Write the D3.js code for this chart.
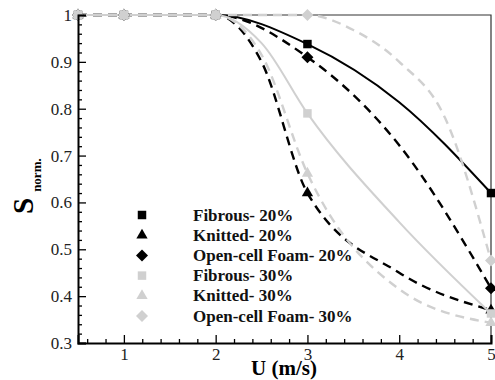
<!DOCTYPE html>
<html>
<head>
<meta charset="utf-8">
<script src="https://cdn.jsdelivr.net/npm/d3@7"></script>
<style>
  body { margin: 0; background: #fff; }
  svg { display: block; }
</style>
</head>
<body>
<svg width="495" height="380"></svg>
<script>
// marker positions (U) and values
var markerU = [0.5, 1, 2, 3, 5]

// curve points (U) used to draw the smooth lines
var fib20U = [0.5, 1, 2, 3, 4, 5]
var fib20S = [1, 1, 1, 0.938, 0.814, 0.62]
var kni20U = [0.5, 1, 2, 2.5, 3, 4, 5]
var kni20S = [1, 1, 1, 0.90, 0.62, 0.45, 0.37]
var foam20U = [0.5, 1, 2, 3, 4, 5]
var foam20S = [1, 1, 1, 0.91, 0.722, 0.417]
var fib30U = [0.5, 1, 2, 2.5, 3, 4, 5]
var fib30S = [1, 1, 1, 0.94, 0.79, 0.558, 0.363]
var kni30U = [0.5, 1, 2, 2.5, 3, 4, 5]
var kni30S = [1, 1, 1, 0.915, 0.662, 0.415, 0.343]
var foam30U = [0.5, 1, 2, 3, 3.5, 4, 4.5, 5]
var foam30S = [1, 1, 1, 1, 0.968, 0.90, 0.78, 0.476]

// values at the marker positions
var fib20M = [1, 1, 1, 0.938, 0.62]
var kni20M = [1, 1, 1, 0.62, 0.37]
var foam20M = [1, 1, 1, 0.91, 0.417]
var fib30M = [1, 1, 1, 0.79, 0.363]
var kni30M = [1, 1, 1, 0.662, 0.343]
var foam30M = [1, 1, 1, 1, 0.476]

var names = ['Fibrous- 20%', 'Knitted- 20%', 'Open-cell Foam- 20%',
             'Fibrous- 30%', 'Knitted- 30%', 'Open-cell Foam- 30%']

var xTicks = [1, 2, 3, 4, 5]
var yTicks = [0.3, 0.4, 0.5, 0.6, 0.7, 0.8, 0.9, 1]

var black = '#000', gray = '#d0d0d0'
var series = [
    { name: names[0], u: fib20U, s: fib20S, m: fib20M, sym: 'sq', color: black, dash: null },
    { name: names[1], u: kni20U, s: kni20S, m: kni20M, sym: 'tri', color: black, dash: '9,6' },
    { name: names[2], u: foam20U, s: foam20S, m: foam20M, sym: 'dia', color: black, dash: '9,6' },
    { name: names[3], u: fib30U, s: fib30S, m: fib30M, sym: 'sq', color: gray, dash: null },
    { name: names[4], u: kni30U, s: kni30S, m: kni30M, sym: 'tri', color: gray, dash: '9,6' },
    { name: names[5], u: foam30U, s: foam30S, m: foam30M, sym: 'dia', color: gray, dash: '9,6' }
]

// square, triangle, square turned 45deg
var symPath = {
    sq: d3.symbol().type(d3.symbolSquare).size(72)(),
    tri: d3.symbol().type(d3.symbolTriangle).size(55)(),
    dia: d3.symbol().type(d3.symbolSquare).size(72)()
}
var symRot = { sq: 0, tri: 0, dia: 45 }

var svg = d3.select("svg"),
    mLeft = 78, mRight = 491, mTop = 15, mBottom = 343;

var x = d3.scaleLinear().domain([0.5, 5]).range([mLeft, mRight])
var y = d3.scaleLinear().domain([0.3, 1]).range([mBottom, mTop])

var serif = "'Liberation Serif', 'Times New Roman', serif"

// frame: thin top and right
svg.append("path")
    .attr("d", "M" + mLeft + "," + mTop + "H" + mRight + "V" + mBottom)
    .attr("fill", "none")
    .attr("stroke", "#333")
    .attr("stroke-width", 1.2)

// lines
var line = d3.line()
    .x(d => x(d[0]))
    .y(d => y(d[1]))
    .curve(d3.curveMonotoneX)

series.forEach(function (sr) {
    svg.append("path")
        .datum(sr.u.map((u, i) => [u, sr.s[i]]))
        .attr("d", line)
        .attr("fill", "none")
        .attr("stroke", sr.color)
        .attr("stroke-width", sr.dash ? 2.4 : 2)
        .attr("stroke-dasharray", sr.dash)
})

// markers
series.forEach(function (sr) {
    svg.append("g")
        .selectAll("path")
        .data(markerU.map((u, i) => [u, sr.m[i]]))
        .enter().append("path")
        .attr("d", symPath[sr.sym])
        .attr("transform", d => "translate(" + x(d[0]) + "," + y(d[1]) + ") rotate(" + symRot[sr.sym] + ")")
        .attr("fill", sr.color)
})

// axes
var xAxis = svg.append("g")
    .attr("transform", "translate(0," + mBottom + ")")
    .call(d3.axisBottom(x).tickValues(xTicks).tickSize(-8).tickPadding(5).tickFormat(d3.format("d")))
var xMinor = svg.append("g")
    .attr("transform", "translate(0," + mBottom + ")")
    .call(d3.axisBottom(x).tickValues(d3.range(0.6, 5, 0.2).filter(v => Math.abs(v - Math.round(v)) > 0.01)).tickSize(-4).tickFormat(""))
var yAxis = svg.append("g")
    .attr("transform", "translate(" + mLeft + ",0)")
    .call(d3.axisLeft(y).tickValues(yTicks).tickSize(-8).tickPadding(6).tickFormat(d => d === 1 ? "1" : d3.format(".1f")(d)))
var yMinor = svg.append("g")
    .attr("transform", "translate(" + mLeft + ",0)")
    .call(d3.axisLeft(y).tickValues(d3.range(0.32, 1, 0.02).filter(v => Math.abs(v * 10 - Math.round(v * 10)) > 0.01)).tickSize(-4).tickFormat(""))

svg.selectAll(".domain").attr("stroke", "#000").attr("stroke-width", 2)
xMinor.select(".domain").remove()
yMinor.select(".domain").remove()
svg.selectAll(".tick line").attr("stroke", "#000").attr("stroke-width", 1.3)
svg.selectAll(".tick text")
    .attr("font-family", serif)
    .attr("font-size", 17)
    .attr("fill", "#222")

// axis titles
svg.append("text")
    .attr("x", 284).attr("y", 375)
    .attr("text-anchor", "middle")
    .attr("font-family", serif)
    .attr("font-weight", "bold")
    .attr("font-size", 21)
    .text("U (m/s)")

var yl = svg.append("text")
    .attr("transform", "translate(33,214) rotate(-90)")
    .attr("font-family", serif)
    .attr("font-weight", "bold")
yl.append("tspan").attr("font-size", 29).text("S")
yl.append("tspan").attr("font-size", 13).attr("dx", 6).attr("dy", 8).text("norm.")

// legend
var legend = svg.append("g")
series.forEach(function (sr, i) {
    var ly = 215 + i * 20.2
    legend.append("path")
        .attr("d", symPath[sr.sym])
        .attr("transform", "translate(142," + ly + ") rotate(" + symRot[sr.sym] + ")")
        .attr("fill", sr.color)
    legend.append("text")
        .attr("x", 193).attr("y", ly + 5.5)
        .attr("font-family", serif)
        .attr("font-weight", "bold")
        .attr("font-size", 17)
        .attr("fill", "#111")
        .text(sr.name)
})
</script>
</body>
</html>
